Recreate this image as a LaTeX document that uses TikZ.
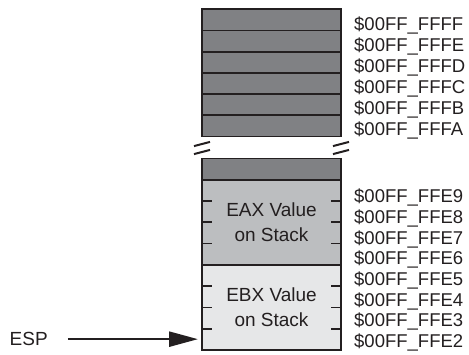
\documentclass[tikz,border=0pt]{standalone}
\usepackage{fontspec}
\setmainfont{Liberation Sans}
\usetikzlibrary{arrows.meta,positioning,calc}
\definecolor{rowgray}{HTML}{808184}
\definecolor{eaxgray}{HTML}{BCBEC0}
\definecolor{ebxgray}{HTML}{E6E7E8}
\definecolor{inkblack}{HTML}{231F20}
\tikzset{
  byterow/.style={draw=inkblack,line width=1.8pt,fill=rowgray,minimum width=139pt,
    minimum height=21.2pt,inner sep=0pt,outer sep=0pt},
  valblock/.style={draw=inkblack,line width=1.8pt,minimum width=139pt,minimum height=85pt,
    inner sep=0pt,outer sep=0pt,align=center,text=inkblack,
    font=\fontsize{19}{25}\selectfont},
  addr/.style={anchor=base west,inner sep=0pt,text=inkblack,
    font=\fontsize{18.5}{21}\selectfont},
  memtick/.style={draw=inkblack,line width=1.8pt},
  ptrarrow/.style={-{Triangle[length=29pt,width=15pt]},line width=2.5pt,draw=inkblack}
}

\begin{document}
\begin{tikzpicture}[x=1pt,y=-1pt]
\useasboundingbox (0,0) rectangle (469,354);
% stack rows, top of memory first
\node[byterow] (r1) at (271.5,19.9) {};
\foreach \i [remember=\i as \last (initially 1)] in {2,...,6}
  \node[byterow,below=0pt of r\last] (r\i) {};
\node[byterow,below=22pt of r6] (r7) {};
\node[valblock,fill=eaxgray,below=0pt of r7] (eax) {EAX Value\\on Stack};
\node[valblock,fill=ebxgray,below=0pt of eax,minimum height=85.5pt] (ebx) {EBX Value\\on Stack};
% byte ticks
\foreach \blk in {eax,ebx}
  \foreach \f in {0.25,0.5,0.75} {
    \draw[memtick] ($(\blk.north west)!\f!(\blk.south west)$) -- ++(10,0);
    \draw[memtick] ($(\blk.north east)!\f!(\blk.south east)$) -- ++(-10,0);
  }
% break marks
\coordinate (brkL) at ($(r6.south west)!0.5!(r7.north west)$);
\coordinate (brkR) at ($(r6.south east)!0.5!(r7.north east)$);
\foreach \side in {brkL,brkR}
  \foreach \dy in {-3.5,4.5}
    \draw[memtick,line width=2pt] ($(\side)+(-8,\dy+2.1)$) -- ++(16,-4.2);
% addresses
\foreach \lbl [count=\i from 0] in {FFFF,FFFE,FFFD,FFFC,FFFB,FFFA}
  \node[addr] (top\lbl) at (354,30+21*\i) {\$00FF\_\lbl};
\foreach \lbl [count=\i from 0] in {FFE9,FFE8,FFE7,FFE6,FFE5,FFE4,FFE3,FFE2}
  \node[addr] (bot\lbl) at (354,202.7+20.66*\i) {\$00FF\_\lbl};
% stack pointer
\node[addr,font=\fontsize{19}{21}\selectfont] (esp) at (9.5,345.7) {ESP};
\draw[ptrarrow,shorten <=20pt,shorten >=4pt] (esp.east) -- (esp.east -| ebx.west);
\end{tikzpicture}
\end{document}
